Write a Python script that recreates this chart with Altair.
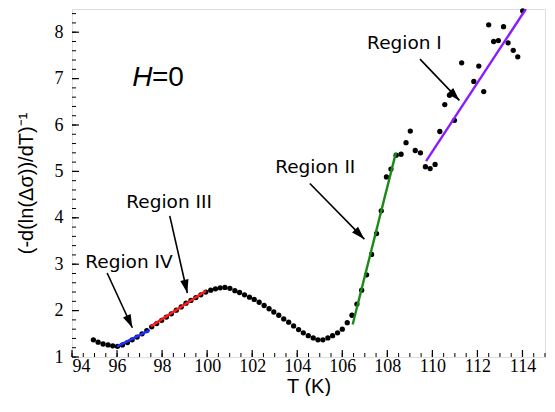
import math
import altair as alt
import pandas as pd

# ---------------- data ----------------
temp = [94.95, 95.16, 95.38, 95.60, 95.81, 96.02, 96.24, 96.46, 96.67, 96.89,
        97.11, 97.32, 97.54, 97.76, 97.98, 98.19, 98.41, 98.63, 98.85, 99.06,
        99.28, 99.50, 99.72, 99.94, 100.16, 100.37, 100.58, 100.79, 101.01, 101.23,
        101.44, 101.66, 101.88, 102.09, 102.31, 102.53, 102.75, 102.96, 103.18, 103.40,
        103.62, 103.84, 104.06, 104.27, 104.49, 104.71, 104.92, 105.14, 105.36, 105.57,
        105.79, 106.00, 106.22, 106.43, 106.65, 106.86, 107.08, 107.30, 107.52, 107.73,
        107.96, 108.16, 108.39, 108.61, 108.83, 109.02, 109.24, 109.47, 109.69, 109.90,
        110.12, 110.33, 110.55, 110.76, 110.98, 111.30, 111.84, 112.06, 112.28, 112.50,
        112.72, 112.93, 113.16, 113.36, 113.59, 113.79, 114.01]
value = [1.37, 1.32, 1.28, 1.26, 1.24, 1.23, 1.26, 1.31, 1.37, 1.43,
         1.50, 1.57, 1.65, 1.72, 1.79, 1.86, 1.93, 2.01, 2.08, 2.16,
         2.22, 2.28, 2.34, 2.40, 2.44, 2.47, 2.49, 2.50, 2.48, 2.43,
         2.39, 2.34, 2.29, 2.24, 2.18, 2.11, 2.04, 1.97, 1.90, 1.82,
         1.75, 1.67, 1.59, 1.52, 1.46, 1.41, 1.37, 1.37, 1.41, 1.46,
         1.52, 1.60, 1.74, 1.90, 2.14, 2.44, 2.77, 3.21, 3.66, 4.15,
         4.88, 5.05, 5.35, 5.37, 5.62, 5.87, 5.45, 5.40, 5.10, 5.06,
         5.15, 5.86, 6.44, 6.64, 6.10, 7.34, 6.94, 7.27, 6.72, 8.16,
         7.80, 7.82, 8.12, 7.77, 7.61, 7.47, 8.46]

fit_region = ["IV", "III", "II", "I"]
fit_t1 = [96.00, 97.50, 106.46, 109.72]
fit_v1 = [1.23, 1.66, 1.70, 5.22]
fit_t2 = [97.45, 99.95, 108.38, 114.15]
fit_v2 = [1.58, 2.43, 5.40, 8.50]
fit_color = ["#1f2fff", "#ff1a1a", "#1a8a1a", "#8a1aff"]

label_text = ["Region I", "Region II", "Region III", "Region IV"]
label_t = [108.76, 104.80, 98.31, 96.53]
label_v = [7.77, 5.09, 4.34, 3.05]

arrow_t1 = [109.45, 104.56, 98.34, 95.56]
arrow_v1 = [7.42, 4.74, 4.04, 2.81]
arrow_t2 = [111.20, 106.98, 99.12, 96.68]
arrow_v2 = [6.53, 3.54, 2.38, 1.63]

h_italic = ["H"]
h_rest = ["=0"]
h_t = [96.67, 97.55]
h_v = [7.01, 7.01]

x_major = list(range(94, 115, 2))
x_minor = [94 + 0.5 * i for i in range(43)]
y_major = list(range(1, 9))
y_minor = [round(1 + 0.2 * i, 1) for i in range(38)]

# ---------------- layout ----------------
W, H = 473, 348
x_dom = [94, 115]
y_dom = [1, 8.5]
sx = W / (x_dom[1] - x_dom[0])
sy = H / (y_dom[1] - y_dom[0])

xs = alt.Scale(domain=x_dom, nice=False, zero=False)
ys = alt.Scale(domain=y_dom, nice=False, zero=False)

pts = pd.DataFrame({"T": temp, "V": value})
fits = pd.DataFrame({"region": fit_region, "t1": fit_t1, "v1": fit_v1,
                     "t2": fit_t2, "v2": fit_v2})
arrows = pd.DataFrame({"t1": arrow_t1, "v1": arrow_v1, "t2": arrow_t2, "v2": arrow_v2})
arrows["ang"] = [
    (math.degrees(math.atan2((b - a) * sx, (d - c) * sy)) + 360) % 360
    for a, b, c, d in zip(arrow_t1, arrow_t2, arrow_v1, arrow_v2)
]
labels = pd.DataFrame({"txt": label_text, "t": label_t, "v": label_v})
h1 = pd.DataFrame({"txt": h_italic, "t": h_t[:1], "v": h_v[:1]})
h2 = pd.DataFrame({"txt": h_rest, "t": h_t[1:], "v": h_v[1:]})

# main points + labelled axes
points = alt.Chart(pts).mark_circle(size=28, color="black", opacity=1).encode(
    x=alt.X("T:Q", scale=xs, axis=alt.Axis(
        orient="bottom", values=x_major, ticks=False, domain=False, grid=False,
        labelFont="Liberation Serif", labelFontSize=18, labelColor="black",
        labelPadding=0, title="T (K)", titleFont="Liberation Sans",
        titleFontSize=20, titleFontWeight="normal", titleColor="black",
        titlePadding=1)),
    y=alt.Y("V:Q", scale=ys, axis=alt.Axis(
        orient="left", values=y_major, ticks=False, domain=False, grid=False,
        labelFont="Liberation Serif", labelFontSize=18, labelColor="black",
        labelPadding=9, title="(-d(ln(Δσ))/dT)⁻¹", titleFont="Liberation Sans",
        titleFontSize=20, titleFontWeight="normal", titleColor="black",
        titlePadding=18)),
)

# inward tick marks, placed through the scales
def xticks(vals, length, width):
    return alt.Chart(pd.DataFrame({"xv": vals})).mark_rule(
        color="black", strokeWidth=width).encode(
        x=alt.X("xv:Q", scale=xs),
        y=alt.value(H), y2=alt.value(H - length))

def yticks(vals, length, width):
    return alt.Chart(pd.DataFrame({"yv": vals})).mark_rule(
        color="black", strokeWidth=width).encode(
        y=alt.Y("yv:Q", scale=ys),
        x=alt.value(0), x2=alt.value(length))

ticks = [xticks(x_minor, 4, 1.0), xticks(x_major, 7, 1.2),
         yticks(y_minor, 4, 1.0), yticks(y_major, 7, 1.2)]

fit_layer = alt.Chart(fits).mark_rule(strokeWidth=2.4, clip=True).encode(
    x=alt.X("t1:Q", scale=xs),
    y=alt.Y("v1:Q", scale=ys),
    x2="t2:Q",
    y2="v2:Q",
    color=alt.Color("region:N", scale=alt.Scale(domain=fit_region, range=fit_color),
                    legend=None),
)

arrow_layer = alt.Chart(arrows).mark_rule(strokeWidth=1.6, color="black").encode(
    x=alt.X("t1:Q", scale=xs),
    y=alt.Y("v1:Q", scale=ys),
    x2="t2:Q",
    y2="v2:Q",
)

heads = alt.Chart(arrows).mark_point(
    shape="M0,0L-1.2,3.8L1.2,3.8Z", size=49, filled=True, color="black", opacity=1
).encode(
    x=alt.X("t2:Q", scale=xs),
    y=alt.Y("v2:Q", scale=ys),
    angle=alt.Angle("ang:Q", scale=None),
)

texts = alt.Chart(labels).mark_text(
    font="DejaVu Sans", fontSize=18.5, color="black", align="center", baseline="middle"
).encode(
    x=alt.X("t:Q", scale=xs),
    y=alt.Y("v:Q", scale=ys),
    text="txt:N",
)

htext1 = alt.Chart(h1).mark_text(
    font="Liberation Sans", fontSize=28, fontStyle="italic", color="black",
    align="left", baseline="middle"
).encode(
    x=alt.X("t:Q", scale=xs),
    y=alt.Y("v:Q", scale=ys),
    text="txt:N",
)
htext2 = alt.Chart(h2).mark_text(
    font="Liberation Sans", fontSize=28, color="black", align="left", baseline="middle"
).encode(
    x=alt.X("t:Q", scale=xs),
    y=alt.Y("v:Q", scale=ys),
    text="txt:N",
)

chart = alt.layer(points, *ticks, fit_layer, arrow_layer, heads, texts, htext1, htext2).properties(
    width=W, height=H, padding={"left": 8, "top": 0, "right": 0, "bottom": 0}
).configure_view(stroke="black", strokeWidth=1.5).configure(background="white")

chart.save("out.html", embed_options={"renderer": "svg", "actions": False})
